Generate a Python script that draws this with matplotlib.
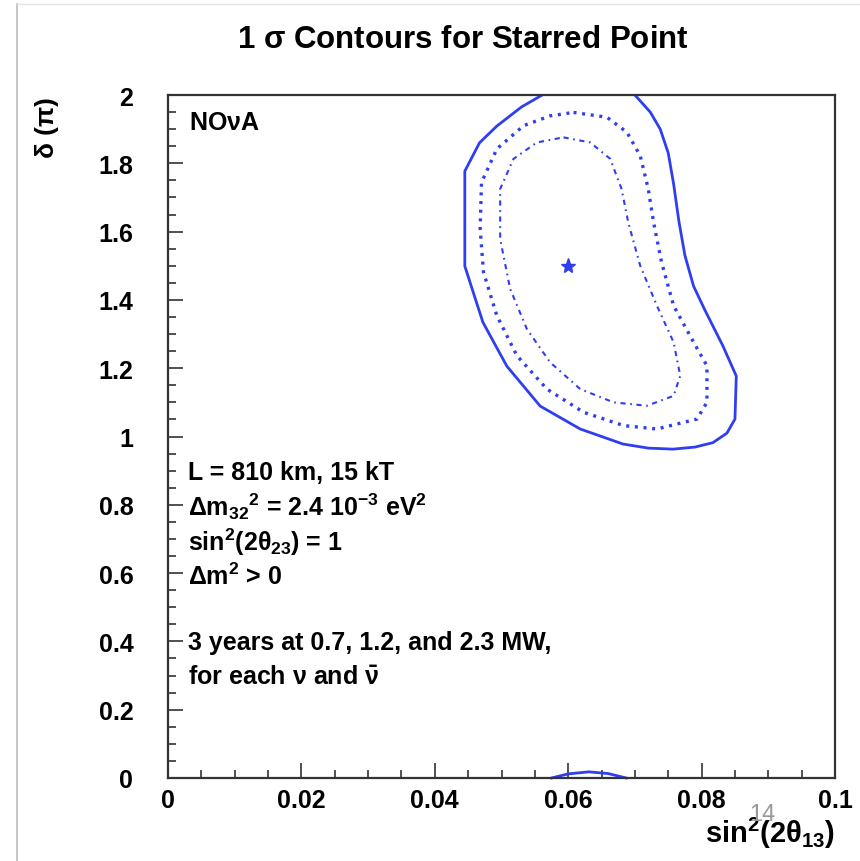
import numpy as np
import matplotlib
matplotlib.use("Agg")
import matplotlib.pyplot as plt
from matplotlib.lines import Line2D
from matplotlib.ticker import MultipleLocator

plt.rcParams['font.family'] = ['Liberation Sans', 'DejaVu Sans']
plt.rcParams['font.weight'] = 'bold'
plt.rcParams['mathtext.fontset'] = 'custom'
plt.rcParams['mathtext.rm'] = 'Liberation Sans:bold'
plt.rcParams['mathtext.it'] = 'Liberation Sans:bold'
plt.rcParams['mathtext.bf'] = 'Liberation Sans:bold'

# contour lines: sin^2(2 theta13), delta (pi)
outer_x = [0.0561, 0.0530, 0.0493, 0.0467, 0.0445, 0.0445, 0.0458, 0.0472, 0.0508, 0.0558,
           0.0618, 0.0682, 0.0720, 0.0757, 0.0790, 0.0817, 0.0838, 0.0850, 0.0852, 0.0832,
           0.0805, 0.0788, 0.0775, 0.0766, 0.0758, 0.0750, 0.0738, 0.0723, 0.0700]
outer_y = [2.000, 1.965, 1.909, 1.860, 1.777, 1.499, 1.420, 1.335, 1.206, 1.089,
           1.022, 0.978, 0.966, 0.963, 0.969, 0.982, 1.010, 1.051, 1.177, 1.265,
           1.370, 1.440, 1.530, 1.630, 1.740, 1.830, 1.900, 1.950, 2.000]

# wrapped piece of the outer contour near delta = 0
wrap_x = [0.0575, 0.0600, 0.0631, 0.0660, 0.0687]
wrap_y = [0.000, 0.012, 0.018, 0.013, 0.000]

mid_x = [0.0608, 0.0658, 0.0688, 0.0708, 0.0720, 0.0728, 0.0740, 0.0758, 0.0788, 0.0808,
         0.0808, 0.0793, 0.0733, 0.0683, 0.0623, 0.0568, 0.0523, 0.0493, 0.0473, 0.0468,
         0.0470, 0.0493, 0.0533, 0.0573, 0.0608]
mid_y = [1.949, 1.935, 1.891, 1.822, 1.725, 1.627, 1.510, 1.383, 1.276, 1.207,
         1.100, 1.051, 1.022, 1.032, 1.071, 1.139, 1.237, 1.354, 1.481, 1.608,
         1.744, 1.842, 1.910, 1.939, 1.949]

inner_x = [0.0593, 0.0633, 0.0663, 0.0680, 0.0690, 0.0708, 0.0733, 0.0758, 0.0768, 0.0758,
           0.0718, 0.0668, 0.0618, 0.0573, 0.0538, 0.0513, 0.0498, 0.0498, 0.0518, 0.0553,
           0.0593]
inner_y = [1.876, 1.861, 1.813, 1.725, 1.627, 1.500, 1.383, 1.276, 1.178, 1.119,
           1.090, 1.100, 1.139, 1.217, 1.315, 1.432, 1.578, 1.725, 1.813, 1.861,
           1.876]

star_x = [0.06]
star_y = [1.5]

info_lines = ['L = 810 km, 15 kT',
              r'$\Delta$m$_{32}$$^{2}$ = 2.4 10$^{-3}$ eV$^{2}$',
              r'sin$^{2}$(2$\theta_{23}$) = 1',
              r'$\Delta$m$^{2}$ > 0']
beam_lines = ['3 years at 0.7, 1.2, and 2.3 MW,',
              r'for each $\nu$ and $\bar{\nu}$']

blue = '#2f3ff0'

fig = plt.figure(figsize=(8.6, 8.62), dpi=100)
ax = fig.add_axes([168/860, 1-779/862, 667/860, 683/862])

ax.plot(outer_x, outer_y, color=blue, lw=2.0, solid_joinstyle='round')
ax.plot(wrap_x, wrap_y, color=blue, lw=2.0, clip_on=False)
ax.plot(mid_x, mid_y, color=blue, lw=2.4, linestyle=(0, (0.9, 1.7)))
ax.plot(inner_x, inner_y, color=blue, lw=1.5, linestyle=(0, (2.5, 2.2, 0.8, 2.2)))
ax.plot(star_x, star_y, marker='*', color=blue, markersize=11, linestyle='none')

ax.set_xlim(0, 0.1)
ax.set_ylim(0, 2)
ax.xaxis.set_minor_locator(MultipleLocator(0.005))
ax.yaxis.set_minor_locator(MultipleLocator(0.05))
ax.set_xticks([0, 0.02, 0.04, 0.06, 0.08, 0.1])
ax.set_xticklabels(['0', '0.02', '0.04', '0.06', '0.08', '0.1'])
ax.set_yticks([0, 0.2, 0.4, 0.6, 0.8, 1.0, 1.2, 1.4, 1.6, 1.8, 2.0])
ax.set_yticklabels(['0', '0.2', '0.4', '0.6', '0.8', '1', '1.2', '1.4', '1.6', '1.8', '2'])
ax.tick_params(which='both', direction='in', top=False, right=False, color='#333333',
               labelsize=18, width=1.2)
ax.tick_params(axis='y', which='major', length=11, pad=25)
ax.tick_params(axis='x', which='major', length=11, pad=7)
ax.tick_params(which='minor', length=5.5)
for s in ax.spines.values():
    s.set_linewidth(1.6)
    s.set_color('#333333')

ax.text(0.031, 0.96, r'NO$\nu$A', transform=ax.transAxes, fontsize=18, va='center')

line_y = [473, 507, 542, 577]
for t, py in zip(info_lines, line_y):
    ax.text(188/860, 1-py/862, t, transform=fig.transFigure, fontsize=18, va='center')
for t, py in zip(beam_lines, [643, 678]):
    ax.text(188/860, 1-py/862, t, transform=fig.transFigure, fontsize=18, va='center')

fig.text(463/860, 1-40/862, r'1 $\sigma$ Contours for Starred Point', fontsize=22.5,
         ha='center', va='center')
fig.text(47/860, 1-97/862, r'$\delta$ ($\pi$)', fontsize=19, rotation=90,
         ha='center', va='top')
fig.text(835/860, 1-833/862, r'sin$^{2}$(2$\theta_{13}$)', fontsize=21,
         ha='right', va='center')

# slide leftovers around the chart
fig.add_artist(Line2D([17/860, 17/860], [0, 1-5/862], color='#bbbbbb', lw=1.2))
fig.add_artist(Line2D([17/860, 1], [1-5/862, 1-5/862], color='#e3e3e3', lw=1.0))
fig.text(762/860, 1-815/862, '14', fontsize=17, color='#999999', fontweight='normal',
         ha='center', va='center')

fig.savefig('out.png', dpi=100)
